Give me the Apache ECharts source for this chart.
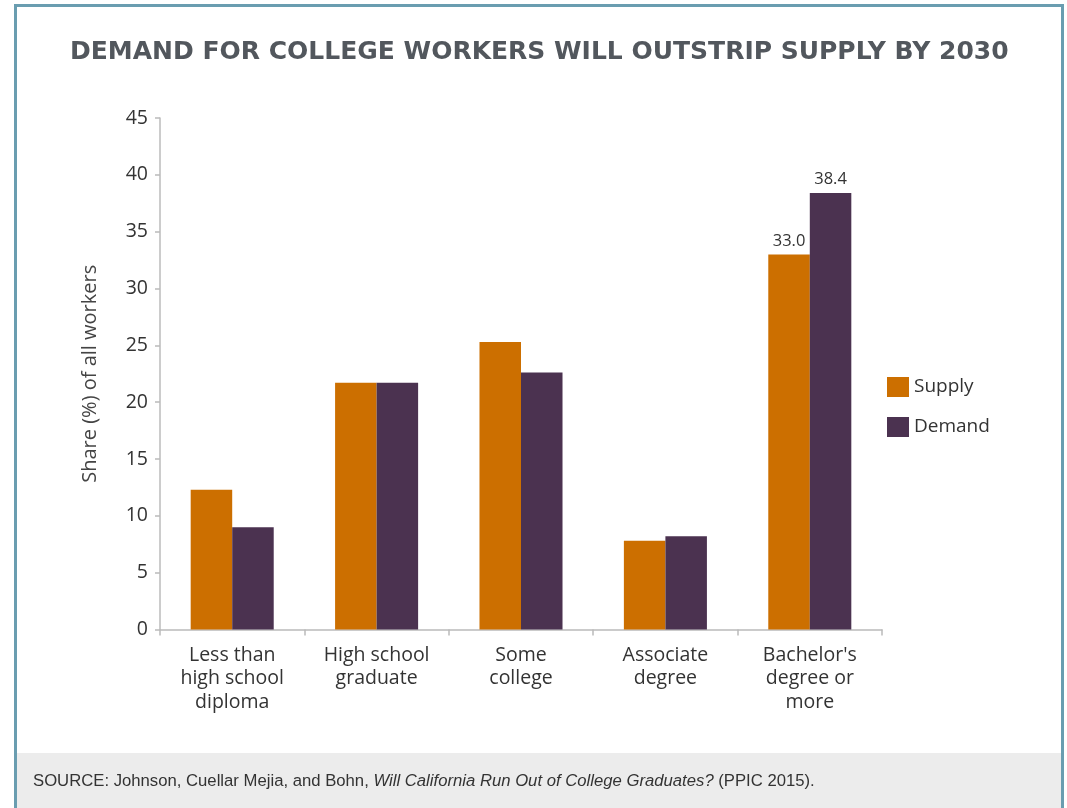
<!DOCTYPE html>
<html>
<head>
<meta charset="utf-8">
<script src="https://cdn.jsdelivr.net/npm/echarts@6/dist/echarts.min.js"></script>
<style>
html,body{margin:0;padding:0;background:#fff;}
#chart{width:1067px;height:808px;}
</style>
</head>
<body>
<div id="chart"></div>
<script>
var categories = ['Less than\nhigh school\ndiploma', 'High school\ngraduate', 'Some\ncollege', 'Associate\ndegree', "Bachelor's\ndegree or\nmore"];
var supply = [12.3, 21.7, 25.3, 7.8, 33.0];
var demand = [9.0, 21.7, 22.6, 8.2, 38.4];
var labelledIndex = 4;
var titleText = 'DEMAND FOR COLLEGE WORKERS WILL OUTSTRIP SUPPLY BY 2030';

var font = '"Open Sans", Lato, sans-serif';

var chart = echarts.init(document.getElementById('chart'));
function lbl(i){ return i === labelledIndex; }
var labelCfg = { position: 'top', distance: 5, fontFamily: font, fontSize: 16.5, color: '#333',
  formatter: function(p){ return p.value.toFixed(1); } };

chart.setOption({
  backgroundColor: '#fff',
  animation: false,
  title: {
    text: titleText,
    left: 65, top: 35,
    textStyle: { fontFamily: '"DejaVu Sans", sans-serif', fontSize: 25, fontWeight: 'bold', color: '#52575d' }
  },
  legend: {
    orient: 'vertical', left: 887, top: 377, padding: 0,
    itemWidth: 22, itemHeight: 20, itemGap: 20,
    icon: 'rect',
    textStyle: { fontFamily: font, fontSize: 19, color: '#333' },
    data: ['Supply', 'Demand']
  },
  grid: { left: 160, right: 185, top: 118, bottom: 178.5 },
  xAxis: {
    type: 'category', data: categories,
    axisLine: { lineStyle: { color: '#bbb', width: 1.5 } },
    axisTick: { show: true, length: 6, lineStyle: { color: '#bbb', width: 1.5 } },
    axisLabel: { fontFamily: font, fontSize: 19.5, color: '#333', lineHeight: 23.5, margin: 14 }
  },
  yAxis: {
    type: 'value', min: 0, max: 45, interval: 5,
    name: 'Share (%) of all workers', nameLocation: 'middle', nameGap: 60,
    nameTextStyle: { fontFamily: font, fontSize: 20, color: '#444' },
    axisLine: { show: true, lineStyle: { color: '#bbb', width: 1.5 } },
    axisTick: { show: true, length: 5, lineStyle: { color: '#bbb', width: 1.5 } },
    splitLine: { show: false },
    axisLabel: { fontFamily: font, fontSize: 19.5, color: '#333', margin: 12 }
  },
  series: [
    {
      name: 'Supply', type: 'bar', barGap: '0%', barCategoryGap: '42.5%',
      itemStyle: { color: '#cc6f00' },
      data: supply.map(function(v, i){ return { value: v, label: { show: lbl(i) } }; }),
      label: labelCfg
    },
    {
      name: 'Demand', type: 'bar',
      itemStyle: { color: '#4b3250' },
      data: demand.map(function(v, i){ return { value: v, label: { show: lbl(i) } }; }),
      label: labelCfg
    }
  ],
  graphic: [
    { type: 'rect', z: -1, shape: { x: 16, y: 753, width: 1046, height: 60 }, style: { fill: '#ececec' } },
    { type: 'rect', z: 10, shape: { x: 15.5, y: 5.5, width: 1047, height: 820 }, style: { fill: 'none', stroke: '#6a9db0', lineWidth: 3 } },
    { type: 'text', left: 33, top: 773, style: {
        text: '{n|SOURCE: Johnson, Cuellar Mejia, and Bohn, }{i|Will California Run Out of College Graduates?}{n| (PPIC 2015).}',
        rich: {
          n: { fontFamily: 'Liberation Sans, Arial, sans-serif', fontSize: 16.7, fill: '#333' },
          i: { fontFamily: 'Liberation Sans, Arial, sans-serif', fontSize: 16.7, fontStyle: 'italic', fill: '#333' }
        }
      } }
  ]
});
</script>
</body>
</html>
